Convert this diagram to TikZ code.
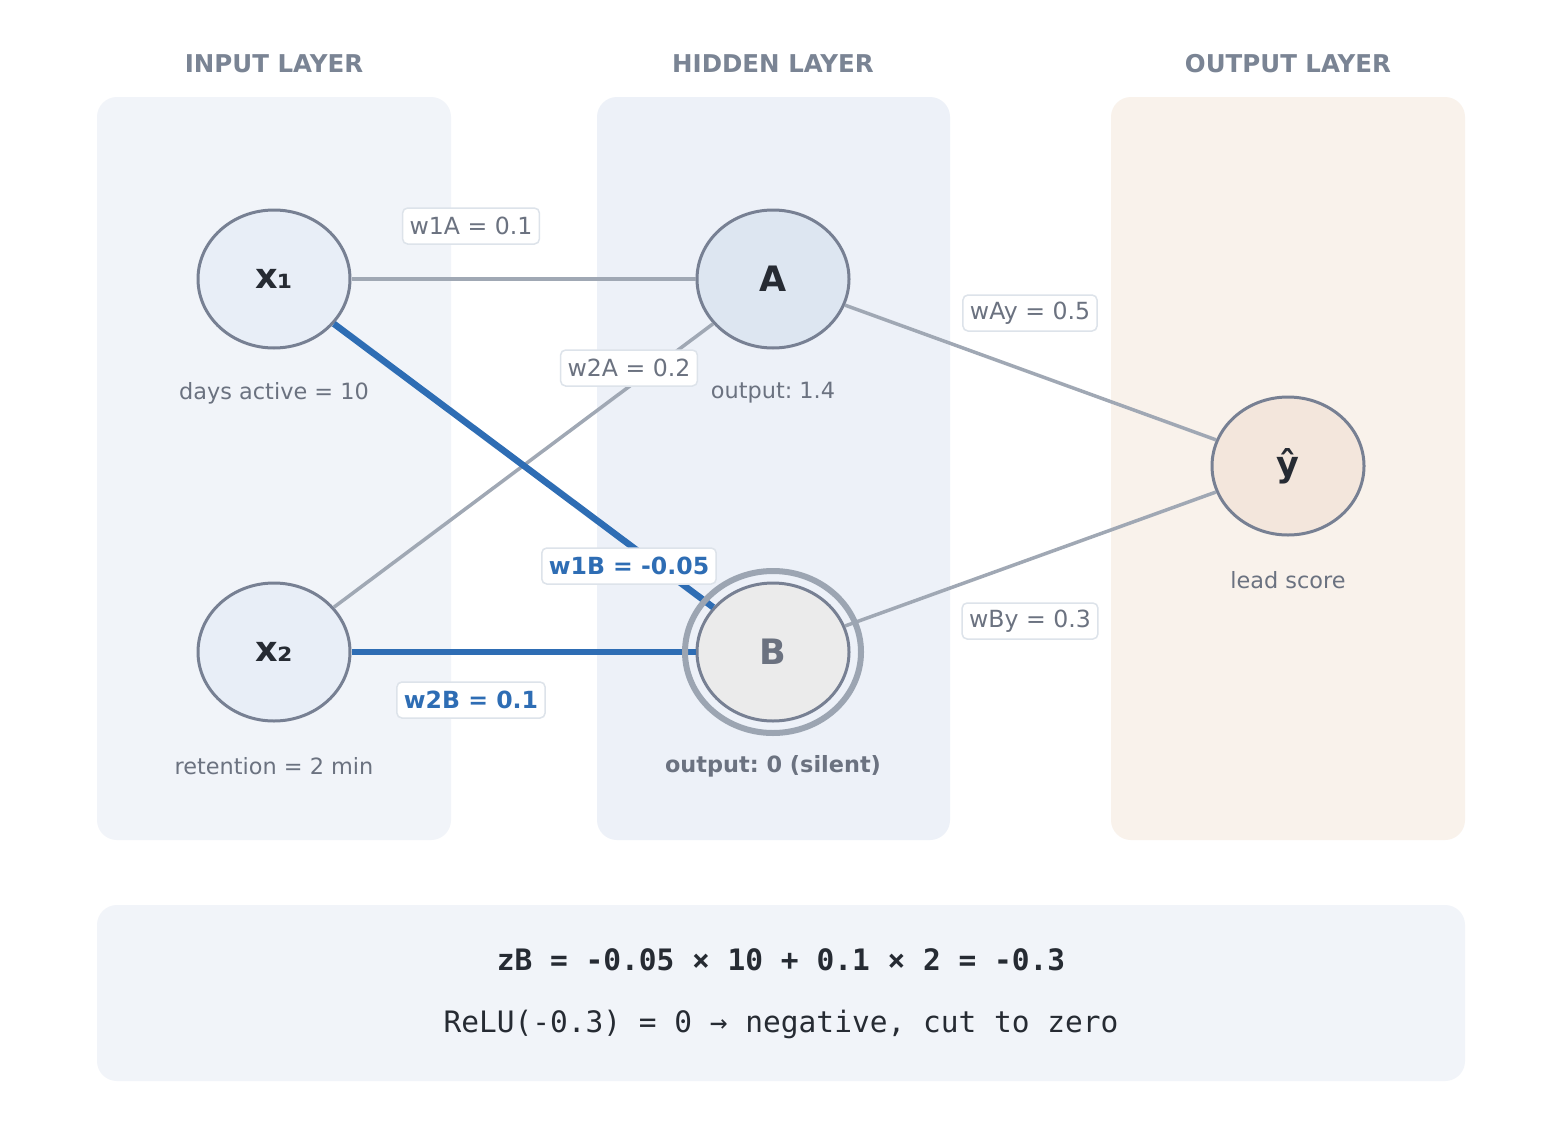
\documentclass[tikz,border=0pt]{standalone}
\usepackage{fontspec}
\setmainfont{DejaVu Sans}
\setmonofont{DejaVu Sans Mono}
\usetikzlibrary{shapes.geometric}
\frenchspacing
\definecolor{panelin}{HTML}{F1F4F9}
\definecolor{panelhid}{HTML}{EDF1F8}
\definecolor{panelout}{HTML}{F9F2EB}
\definecolor{headgray}{HTML}{7A8494}
\definecolor{subgray}{HTML}{6B7280}
\definecolor{nodeline}{HTML}{778093}
\definecolor{ringgray}{HTML}{9CA5B2}
\definecolor{edgegray}{HTML}{A0A8B4}
\definecolor{blueedge}{HTML}{2E6DB4}
\definecolor{darktext}{HTML}{262B33}
\definecolor{fillx}{HTML}{E8EEF7}
\definecolor{fillA}{HTML}{DDE6F1}
\definecolor{fillB}{HTML}{EBEBEB}
\definecolor{filly}{HTML}{F3E6DC}
\definecolor{boxline}{HTML}{DDE3EA}
\tikzset{
  panel/.style={rounded corners=20pt},
  heading/.style={text=headgray, font=\fontsize{24.5}{29}\selectfont\bfseries},
  neuron/.style={ellipse, draw=nodeline, line width=3pt, minimum width=152pt, minimum height=138pt, inner sep=0pt, text=darktext, font=\fontsize{35}{42}\selectfont\bfseries},
  sublabel/.style={text=subgray, font=\fontsize{22.4}{27}\selectfont},
  wbox/.style={fill=white, draw=boxline, line width=1.5pt, rounded corners=5pt, inner xsep=7pt, minimum height=36pt, text=subgray, font=\fontsize{23.6}{28}\selectfont},
  wboxb/.style={wbox, text=blueedge, font=\fontsize{23.6}{28}\selectfont\bfseries},
  gedge/.style={draw=edgegray, line width=3.5pt},
  bedge/.style={draw=blueedge, line width=6.5pt},
}
\begin{document}
\begin{tikzpicture}[x=1pt,y=-1pt]
\useasboundingbox (0,0) rectangle (1546,1132);
\fill[white] (0,0) rectangle (1546,1132);
% panels
\fill[panelin, panel] (97,97) rectangle (451,840);
\fill[panelhid, panel] (597,97) rectangle (950,840);
\fill[panelout, panel] (1111,97) rectangle (1465,840);
\fill[panelin, panel] (97,905) rectangle (1465,1081);
% headings
\node[heading] (hin) at (274,64) {INPUT LAYER};
\node[heading] (hhid) at (773,64) {HIDDEN LAYER};
\node[heading] (hout) at (1288,64) {OUTPUT LAYER};
% neurons
\node[neuron, fill=fillx] (x1) at (274,279) {x₁};
\node[neuron, fill=fillx] (x2) at (274,652) {x₂};
\node[neuron, fill=fillA] (A) at (773,279) {A};
\node[neuron, fill=fillB, text=subgray] (B) at (773,652) {B};
\node[neuron, fill=filly] (y) at (1288,466) {ŷ};
% edges
\draw[gedge] (x1) -- (A);
\draw[gedge] (x2) -- (A);
\draw[bedge] (x1) -- (B);
\draw[bedge] (x2) -- (B);
\draw[gedge] (A) -- (y);
\draw[gedge] (B) -- (y);
% ring around B
\node[ellipse, draw=ringgray, line width=6pt, minimum width=176pt, minimum height=162pt, inner sep=0pt] (Bring) at (B) {};
% sublabels
\node[sublabel] (lx1) at (274,393) {days active = 10};
\node[sublabel] (lx2) at (274,766) {retention = 2 min};
\node[sublabel] (lA) at (773,393) {output: 1.4};
\node[sublabel, font=\fontsize{22.4}{27}\selectfont\bfseries] (lB) at (773,766) {output: 0 (silent)};
\node[sublabel] (ly) at (1288,580) {lead score};
% weight labels
\node[wbox] (w1A) at (471,226) {w1A = 0.1};
\node[wbox] (w2A) at (629,368) {w2A = 0.2};
\node[wboxb] (w1B) at (629,566) {w1B = -0.05};
\node[wboxb] (w2B) at (471,700) {w2B = 0.1};
\node[wbox] (wAy) at (1030,313) {wAy = 0.5};
\node[wbox] (wBy) at (1030,621) {wBy = 0.3};
% formula
\node[text=darktext, font=\fontsize{29.5}{35}\selectfont\ttfamily\bfseries] (f1) at (781,960) {zB = -0.05 × 10 + 0.1 × 2 = -0.3};
\node[text=darktext, font=\fontsize{29.5}{35}\selectfont\ttfamily] (f2) at (781,1024) {ReLU(-0.3) = 0 → negative, cut to zero};
\end{tikzpicture}
\end{document}
